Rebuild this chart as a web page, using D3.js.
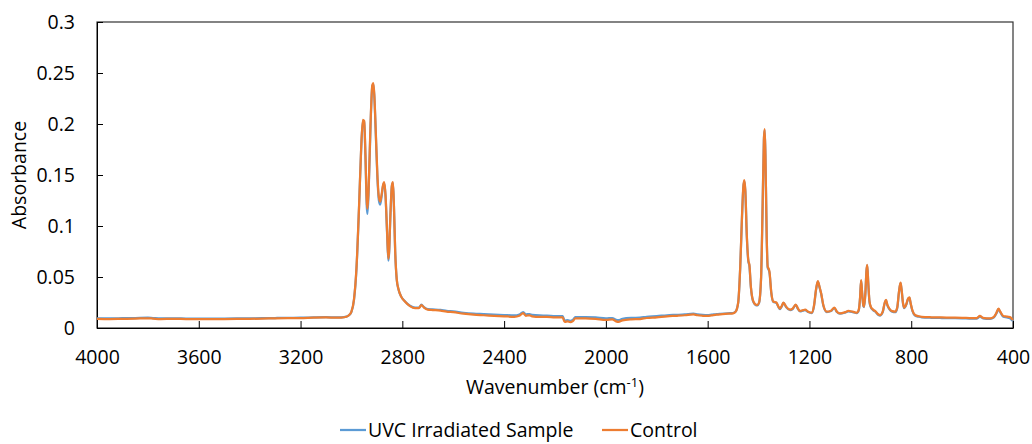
<!DOCTYPE html>
<html>
<head>
<meta charset="utf-8">
<script src="https://cdn.jsdelivr.net/npm/d3@7"></script>
<style>
  body { margin: 0; background: #fff; }
  svg text { font-family: "Open Sans", sans-serif; fill: #000; }
</style>
</head>
<body>
<svg id="chart"></svg>
<script>
// Wavenumber (cm-1)
const wavenumber = [
  4000, 3950, 3900, 3850, 3800, 3780, 3750, 3700, 3650, 3600,
  3550, 3500, 3450, 3400, 3350, 3300, 3250, 3200, 3150, 3100,
  3060, 3040, 3020, 3010, 3000, 2990, 2980, 2970, 2962, 2955,
  2950, 2945, 2940, 2937, 2932, 2925, 2918, 2914, 2910, 2904,
  2898, 2892, 2887, 2882, 2876, 2871, 2866, 2860, 2855, 2852,
  2847, 2841, 2837, 2833, 2828, 2822, 2815, 2805, 2790, 2770,
  2750, 2735, 2725, 2715, 2700, 2680, 2650, 2626, 2600, 2560,
  2520, 2480, 2440, 2400, 2360, 2340, 2325, 2315, 2300, 2290,
  2260, 2232, 2200, 2170, 2162, 2150, 2140, 2130, 2120, 2080,
  2040, 2000, 1975, 1960, 1950, 1935, 1900, 1866, 1840, 1800,
  1760, 1720, 1690, 1656, 1640, 1620, 1600, 1585, 1565, 1550,
  1520, 1500, 1490, 1480, 1472, 1465, 1460, 1456, 1452, 1446,
  1440, 1436, 1430, 1422, 1412, 1405, 1398, 1390, 1384, 1379,
  1376, 1373, 1368, 1364, 1360, 1357, 1350, 1342, 1330, 1322,
  1316, 1308, 1302, 1292, 1276, 1266, 1254, 1245, 1237, 1225,
  1217, 1205, 1191, 1182, 1174, 1167, 1160, 1154, 1145, 1132,
  1115, 1102, 1092, 1080, 1060, 1047, 1030, 1014, 1006, 1001,
  997, 993, 988, 985, 980, 976, 973, 969, 964, 959,
  950, 942, 930, 922, 912, 904, 899, 894, 886, 875,
  863, 855, 848, 842, 838, 832, 828, 820, 812, 807,
  802, 795, 785, 770, 759, 720, 680, 640, 600, 560,
  543, 530, 518, 490, 475, 465, 457, 450, 438, 425,
  418, 410, 405, 400
];

// Absorbance, UVC irradiated sample
const uvc = [
  .0095, .0094, .0096, .0098, .0101, .0098, .0094, .0095, .0092, .0091,
  .0092, .0093, .0094, .0095, .0096, .0098, .0100, .0101, .0104, .0106,
  .0103, .0104, .0111, .0125, .0158, .0276, .0590, .1190, .1740, .2030,
  .2020, .1680, .1200, .1120, .1370, .1980, .2370, .2390, .2270, .1880,
  .1470, .1250, .1210, .1280, .1390, .1420, .1290, .0930, .0660, .0730,
  .1090, .1390, .1420, .1190, .0740, .0475, .0378, .0310, .0262, .0218,
  .0199, .0199, .0228, .0204, .0185, .0182, .0177, .0168, .0163, .0149,
  .0140, .0136, .0131, .0127, .0123, .0132, .0156, .0133, .0137, .0128,
  .0123, .0122, .0117, .0116, .0072, .0078, .0070, .0080, .0106, .0107,
  .0103, .0094, .0098, .0080, .0076, .0090, .0099, .0101, .0110, .0116,
  .0125, .0129, .0133, .0141, .0133, .0128, .0126, .0130, .0136, .0139,
  .0144, .0147, .0161, .0248, .0595, .1090, .1370, .1440, .1340, .0890,
  .0650, .0610, .0395, .0265, .0226, .0221, .0247, .0495, .1190, .1840,
  .1940, .1690, .0890, .0590, .0570, .0540, .0345, .0256, .0246, .0206,
  .0186, .0216, .0246, .0206, .0176, .0186, .0226, .0186, .0163, .0171,
  .0176, .0156, .0146, .0216, .0375, .0455, .0395, .0335, .0215, .0156,
  .0166, .0196, .0156, .0140, .0151, .0163, .0156, .0146, .0176, .0295,
  .0465, .0345, .0215, .0205, .0345, .0555, .0615, .0445, .0255, .0205,
  .0175, .0162, .0130, .0122, .0155, .0245, .0270, .0225, .0185, .0160,
  .0155, .0195, .0355, .0440, .0375, .0235, .0195, .0225, .0285, .0295,
  .0235, .0165, .0122, .0110, .0105, .0100, .0098, .0097, .0095, .0092,
  .0092, .0112, .0095, .0090, .0104, .0144, .0185, .0154, .0110, .0104,
  .0100, .0093, .0080, .0070
];

// Absorbance, control
const control = [
  .0090, .0088, .0090, .0092, .0095, .0092, .0088, .0090, .0087, .0086,
  .0087, .0088, .0089, .0090, .0092, .0095, .0097, .0098, .0102, .0104,
  .0101, .0102, .0110, .0125, .0160, .0280, .0600, .1200, .1750, .2040,
  .2030, .1700, .1250, .1170, .1400, .2000, .2380, .2400, .2280, .1900,
  .1500, .1280, .1240, .1300, .1400, .1430, .1300, .0950, .0680, .0750,
  .1100, .1400, .1430, .1200, .0750, .0480, .0380, .0310, .0260, .0215,
  .0195, .0195, .0225, .0200, .0180, .0176, .0170, .0160, .0155, .0140,
  .0130, .0125, .0120, .0115, .0110, .0120, .0145, .0120, .0125, .0115,
  .0110, .0110, .0105, .0105, .0060, .0065, .0058, .0068, .0095, .0095,
  .0090, .0080, .0085, .0065, .0060, .0075, .0085, .0088, .0098, .0105,
  .0115, .0120, .0125, .0134, .0125, .0120, .0118, .0123, .0130, .0134,
  .0140, .0144, .0160, .0250, .0600, .1100, .1380, .1450, .1350, .0900,
  .0660, .0620, .0400, .0270, .0230, .0225, .0250, .0500, .1200, .1850,
  .1950, .1700, .0900, .0600, .0580, .0550, .0350, .0260, .0250, .0210,
  .0190, .0220, .0250, .0210, .0180, .0190, .0230, .0190, .0167, .0175,
  .0180, .0160, .0150, .0220, .0380, .0460, .0400, .0340, .0220, .0160,
  .0170, .0200, .0160, .0144, .0155, .0167, .0160, .0150, .0180, .0300,
  .0470, .0350, .0220, .0210, .0350, .0560, .0620, .0450, .0260, .0210,
  .0180, .0167, .0135, .0127, .0160, .0250, .0275, .0230, .0190, .0165,
  .0160, .0200, .0360, .0444, .0380, .0240, .0200, .0230, .0290, .0300,
  .0240, .0170, .0127, .0115, .0110, .0105, .0103, .0102, .0100, .0097,
  .0097, .0118, .0100, .0095, .0110, .0150, .0190, .0160, .0118, .0112,
  .0110, .0105, .0090, .0080
];

const xTicks = [4000, 3600, 3200, 2800, 2400, 2000, 1600, 1200, 800, 400];
const yTicks = [0, 0.05, 0.1, 0.15, 0.2, 0.25, 0.3];

const Width = 1032, Height = 444;
const plotLeft = 97, plotRight = 1013, plotTop = 22, plotBottom = 328;

const svg = d3.select("#chart")
  .attr("width", Width)
  .attr("height", Height);

const x = d3.scaleLinear().domain([4000, 400]).range([plotLeft, plotRight]);
const y = d3.scaleLinear().domain([0, 0.3]).range([plotBottom, plotTop]);

// plot frame
svg.append("rect")
  .attr("x", plotLeft).attr("y", plotTop)
  .attr("width", plotRight - plotLeft).attr("height", plotBottom - plotTop)
  .attr("fill", "none")
  .attr("stroke", "#333")
  .attr("stroke-width", 1.2);

// axes, ticks pointing inwards
const xAxis = svg.append("g")
  .attr("transform", `translate(0,${plotBottom})`)
  .call(d3.axisBottom(x).tickValues(xTicks).tickSizeInner(-7).tickSizeOuter(0)
    .tickPadding(22).tickFormat(d3.format("d")));
const yAxis = svg.append("g")
  .attr("transform", `translate(${plotLeft},0)`)
  .call(d3.axisLeft(y).tickValues(yTicks).tickSizeInner(-6).tickSizeOuter(0)
    .tickPadding(22).tickFormat(d => d === 0 ? "0" : String(+d.toFixed(2))));

[xAxis, yAxis].forEach(g => {
  g.select(".domain").attr("stroke", "#000");
  g.selectAll(".tick line").attr("stroke", "#000");
  g.selectAll("text").style("font-size", "19.5px").attr("fill", "#000");
});

// series
const line = values => d3.line()
  .x((d, i) => x(wavenumber[i]))
  .y(d => y(d))
  .curve(d3.curveMonotoneX)(values);

svg.append("path")
  .attr("d", line(uvc))
  .attr("fill", "none")
  .attr("stroke", "#5B9BD5")
  .attr("stroke-width", 2.25);

svg.append("path")
  .attr("d", line(control))
  .attr("fill", "none")
  .attr("stroke", "#ED7D31")
  .attr("stroke-width", 2.25);

// axis titles
svg.append("text")
  .attr("transform", `translate(26,${(plotTop + plotBottom) / 2}) rotate(-90)`)
  .attr("text-anchor", "middle")
  .style("font-size", "19.5px")
  .text("Absorbance");

const xt = svg.append("text")
  .attr("x", (plotLeft + plotRight) / 2)
  .attr("y", 394)
  .attr("text-anchor", "middle")
  .style("font-size", "19.5px");
xt.append("tspan").text("Wavenumber (cm");
xt.append("tspan").attr("dy", -7).style("font-size", "13px").text("-1");
xt.append("tspan").attr("dy", 7).text(")");

// legend
const legend = [
  { name: "UVC Irradiated Sample", color: "#5B9BD5", x: 340 },
  { name: "Control", color: "#ED7D31", x: 602 }
];
const lg = svg.selectAll(".legend")
  .data(legend)
  .enter()
  .append("g")
  .attr("transform", d => `translate(${d.x},430)`);
lg.append("line")
  .attr("x1", 0).attr("x2", 26)
  .attr("stroke", d => d.color)
  .attr("stroke-width", 2.25);
lg.append("text")
  .attr("x", 28)
  .attr("dy", "0.35em")
  .style("font-size", "19.5px")
  .text(d => d.name);
</script>
</body>
</html>
